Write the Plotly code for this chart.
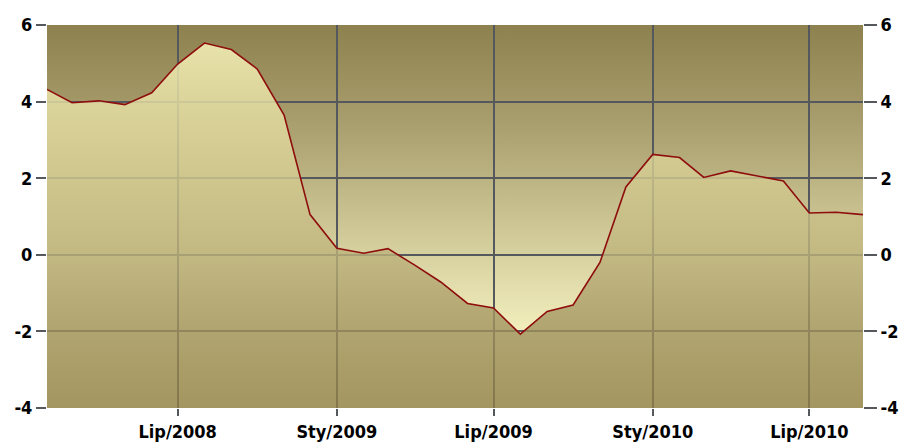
import base64
import plotly.graph_objects as go

# ---- data ----
months = ["2008-02-01", "2008-03-01", "2008-04-01", "2008-05-01", "2008-06-01", "2008-07-01",
          "2008-08-01", "2008-09-01", "2008-10-01", "2008-11-01", "2008-12-01",
          "2009-01-01", "2009-02-01", "2009-03-01", "2009-04-01", "2009-05-01", "2009-06-01",
          "2009-07-01", "2009-08-01", "2009-09-01", "2009-10-01", "2009-11-01", "2009-12-01",
          "2010-01-01", "2010-02-01", "2010-03-01", "2010-04-01", "2010-05-01", "2010-06-01",
          "2010-07-01", "2010-08-01", "2010-09-01"]
values = [4.32, 3.97, 4.02, 3.92, 4.23, 4.98,
          5.53, 5.36, 4.85, 3.65, 1.05,
          0.17, 0.04, 0.16, -0.27, -0.71, -1.27,
          -1.39, -2.07, -1.48, -1.31, -0.20, 1.77,
          2.62, 2.54, 2.02, 2.19, 2.06, 1.93,
          1.09, 1.11, 1.05]
tick_dates = ["2008-07-01", "2009-01-01", "2009-07-01", "2010-01-01", "2010-07-01"]
tick_labels = ["Lip/2008", "Sty/2009", "Lip/2009", "Sty/2010", "Lip/2010"]
y_ticks = [-4, -2, 0, 2, 4, 6]
y_tick_labels = ["-4", "-2", "0", "2", "4", "6"]
y_min, y_max = -4, 6
x_start, x_end = "2008-02-01", "2010-09-01"

FONT = "DejaVu Sans Condensed, DejaVu Sans, sans-serif"
GRID = "#55585c"

# background gradient (dark at top, light toward the bottom)
svg = ('<svg xmlns="http://www.w3.org/2000/svg" width="10" height="100" viewBox="0 0 10 100" '
       'preserveAspectRatio="none"><defs><linearGradient id="g" x1="0" y1="0" x2="0" y2="1">'
       '<stop offset="0" stop-color="#8e8150"/><stop offset="0.25" stop-color="#a89d6c"/>'
       '<stop offset="0.82" stop-color="#f5f2c0"/><stop offset="1" stop-color="#f8f5c5"/>'
       '</linearGradient></defs><rect width="10" height="100" fill="url(#g)"/></svg>')
bg_src = "data:image/svg+xml;base64," + base64.b64encode(svg.encode()).decode()

top = max(values)
def pos(v):
    return (v - y_min) / (top - y_min)

fill_scale = [
    [0.0, "rgba(142,126,70,0.8)"],
    [pos(-2), "rgba(159,145,92,0.8)"],
    [pos(0), "rgba(189,178,123,0.8)"],
    [pos(2), "rgba(212,203,145,0.8)"],
    [pos(4), "rgba(233,227,168,0.8)"],
    [1.0, "rgba(253,250,191,0.8)"],
]

fig = go.Figure()
fig.add_trace(go.Scatter(x=months, y=[y_min] * len(months), mode="lines",
                         line=dict(width=0, color="rgba(0,0,0,0)"),
                         hoverinfo="skip", showlegend=False))
fig.add_trace(go.Scatter(x=months, y=values, mode="lines", fill="tonexty",
                         fillgradient=dict(type="vertical", colorscale=fill_scale,
                                           start=y_min, stop=top),
                         line=dict(color="#8e0d0d", width=1.6),
                         showlegend=False))
fig.add_trace(go.Scatter(x=months, y=values, mode="lines", yaxis="y2",
                         line=dict(width=0), opacity=0, hoverinfo="skip",
                         showlegend=False))

tickfont = dict(family=FONT, size=18, color="#000000", weight="bold")
fig.update_layout(
    width=903, height=444,
    margin=dict(l=47, r=40, t=25, b=36),
    paper_bgcolor="white",
    plot_bgcolor="rgba(0,0,0,0)",
    font=dict(family=FONT, size=18, color="#000000"),
    images=[dict(source=bg_src, xref="paper", yref="paper", x=0, y=1, sizex=1, sizey=1,
                 sizing="stretch", layer="below", xanchor="left", yanchor="top")],
    xaxis=dict(type="date", range=[x_start, x_end], tickvals=tick_dates, ticktext=tick_labels,
               showgrid=True, gridcolor=GRID, gridwidth=2, zeroline=False, automargin=False,
               ticks="outside", ticklen=7, tickwidth=2, tickcolor=GRID,
               tickfont=tickfont, showline=False),
    yaxis=dict(range=[y_min, y_max], tickvals=y_ticks, ticktext=y_tick_labels,
               showgrid=True, gridcolor=GRID, automargin=False,
               gridwidth=2, zeroline=False, ticks="outside", ticklen=10, tickwidth=2,
               tickcolor=GRID, tickfont=tickfont, showline=False),
    yaxis2=dict(range=[y_min, y_max], tickvals=y_ticks, ticktext=y_tick_labels,
                overlaying="y", side="right", automargin=False,
                showgrid=False, zeroline=False, ticks="outside", ticklen=13, tickwidth=2,
                tickcolor=GRID, tickfont=tickfont, showline=False),
)

fig.write_html("out.html")
